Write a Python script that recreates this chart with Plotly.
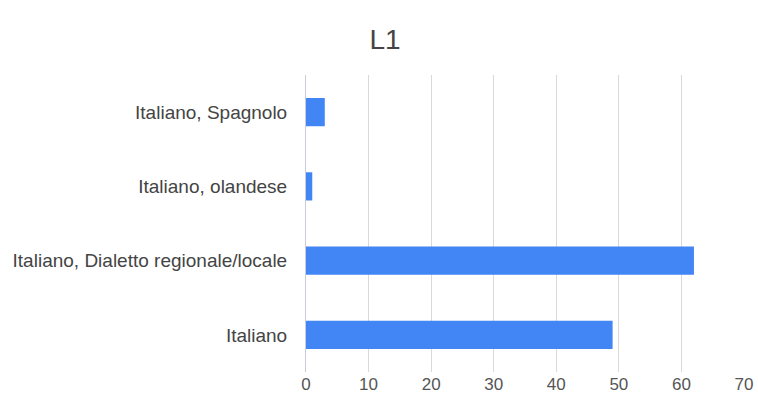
import plotly.graph_objects as go

categories = ["Italiano", "Italiano, Dialetto regionale/locale", "Italiano, olandese", "Italiano, Spagnolo"]
values = [49, 62, 1, 3]
x_ticks = [0, 10, 20, 30, 40, 50, 60, 70]

fig = go.Figure(go.Bar(
    y=categories, x=values, orientation="h",
    marker=dict(color="#4285F4", line=dict(width=0)),
))

fig.update_layout(
    width=758, height=401,
    margin=dict(l=306, r=14, t=75, b=29, autoexpand=False),
    paper_bgcolor="white", plot_bgcolor="white",
    font=dict(family="Liberation Sans, Arial, sans-serif", size=19, color="#444444"),
    title=dict(text="L1", x=385/758, xref="container", xanchor="center", y=1 - 39/401, yref="container",
               yanchor="middle", font=dict(size=28, color="#444444")),
    bargap=0.62,
    showlegend=False,
)
fig.update_xaxes(range=[0, 70], tickvals=x_ticks, showgrid=True, gridcolor="#d9d9d9", gridwidth=1,
                 zeroline=False, showline=False, ticks="", tickfont=dict(size=17, color="#555555"),
                 fixedrange=True, automargin=False)
fig.update_yaxes(showgrid=False, showline=True, linecolor="#c9ccd6", linewidth=1,
                 ticks="outside", ticklen=14, tickcolor="rgba(0,0,0,0)", fixedrange=True, automargin=False)

fig.write_html("out.html")
